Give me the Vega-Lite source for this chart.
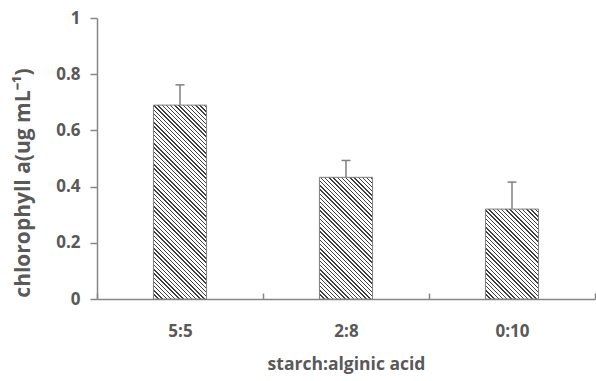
{
  "$schema": "https://vega.github.io/schema/vega-lite/v6.json",
  "width": 498,
  "height": 281,
  "autosize": {"type": "none"},
  "padding": {"left": 97, "top": 18, "right": 1, "bottom": 82},
  "background": "#ffffff",
  "config": {"view": {"stroke": null}},
  "data": {"values": [
    {"ratio": "5:5", "value": 0.69, "upper": 0.762},
    {"ratio": "2:8", "value": 0.433, "upper": 0.493},
    {"ratio": "0:10", "value": 0.32, "upper": 0.416}
  ]},
  "encoding": {
    "x": {"field": "ratio", "type": "nominal", "sort": null,
      "scale": {"domain": ["5:5", "2:8", "0:10"], "paddingInner": 0, "paddingOuter": 0},
      "axis": {"title": "starch:alginic acid", "labelAngle": 0, "tickBand": "extent", "tickSize": -6,
        "labelPadding": 38, "labelBaseline": "middle", "labelFont": "Open Sans", "labelFontWeight": "bold", "labelFontSize": 17, "labelColor": "#595959",
        "domainColor": "#868686", "domainWidth": 1.5, "tickColor": "#868686", "tickWidth": 1.5,
        "titleFont": "Open Sans", "titleFontWeight": "bold", "titleFontSize": 17.5, "titleColor": "#595959",
        "titleY": 70, "titleBaseline": "alphabetic"}
    }
  },
  "layer": [
    {
      "transform": [{"filter": "datum.ratio === '5:5'"}],
      "mark": {"type": "bar", "width": {"band": 0.32}, "stroke": "#7f7f7f", "strokeWidth": 1,
        "fill": {"gradient": "linear", "x1": 0, "y1": 1, "x2": 0.368, "y2": -0.3433, "stops": [
{"offset":0,"color":"#404040"},{"offset":0.005,"color":"#404040"},{"offset":0.005,"color":"#fff"},{"offset":0.015,"color":"#fff"},
{"offset":0.015,"color":"#404040"},{"offset":0.02,"color":"#404040"},{"offset":0.02,"color":"#fff"},{"offset":0.03,"color":"#fff"},
{"offset":0.03,"color":"#404040"},{"offset":0.035,"color":"#404040"},{"offset":0.035,"color":"#fff"},{"offset":0.045,"color":"#fff"},
{"offset":0.045,"color":"#404040"},{"offset":0.05,"color":"#404040"},{"offset":0.05,"color":"#fff"},{"offset":0.06,"color":"#fff"},
{"offset":0.06,"color":"#404040"},{"offset":0.065,"color":"#404040"},{"offset":0.065,"color":"#fff"},{"offset":0.075,"color":"#fff"},
{"offset":0.075,"color":"#404040"},{"offset":0.08,"color":"#404040"},{"offset":0.08,"color":"#fff"},{"offset":0.09,"color":"#fff"},
{"offset":0.09,"color":"#404040"},{"offset":0.095,"color":"#404040"},{"offset":0.095,"color":"#fff"},{"offset":0.105,"color":"#fff"},
{"offset":0.105,"color":"#404040"},{"offset":0.11,"color":"#404040"},{"offset":0.11,"color":"#fff"},{"offset":0.12,"color":"#fff"},
{"offset":0.12,"color":"#404040"},{"offset":0.125,"color":"#404040"},{"offset":0.125,"color":"#fff"},{"offset":0.135,"color":"#fff"},
{"offset":0.135,"color":"#404040"},{"offset":0.14,"color":"#404040"},{"offset":0.14,"color":"#fff"},{"offset":0.15,"color":"#fff"},
{"offset":0.15,"color":"#404040"},{"offset":0.155,"color":"#404040"},{"offset":0.155,"color":"#fff"},{"offset":0.165,"color":"#fff"},
{"offset":0.165,"color":"#404040"},{"offset":0.17,"color":"#404040"},{"offset":0.17,"color":"#fff"},{"offset":0.18,"color":"#fff"},
{"offset":0.18,"color":"#404040"},{"offset":0.185,"color":"#404040"},{"offset":0.185,"color":"#fff"},{"offset":0.195,"color":"#fff"},
{"offset":0.195,"color":"#404040"},{"offset":0.2,"color":"#404040"},{"offset":0.2,"color":"#fff"},{"offset":0.21,"color":"#fff"},
{"offset":0.21,"color":"#404040"},{"offset":0.215,"color":"#404040"},{"offset":0.215,"color":"#fff"},{"offset":0.225,"color":"#fff"},
{"offset":0.225,"color":"#404040"},{"offset":0.23,"color":"#404040"},{"offset":0.23,"color":"#fff"},{"offset":0.24,"color":"#fff"},
{"offset":0.24,"color":"#404040"},{"offset":0.245,"color":"#404040"},{"offset":0.245,"color":"#fff"},{"offset":0.255,"color":"#fff"},
{"offset":0.255,"color":"#404040"},{"offset":0.26,"color":"#404040"},{"offset":0.26,"color":"#fff"},{"offset":0.27,"color":"#fff"},
{"offset":0.27,"color":"#404040"},{"offset":0.275,"color":"#404040"},{"offset":0.275,"color":"#fff"},{"offset":0.285,"color":"#fff"},
{"offset":0.285,"color":"#404040"},{"offset":0.29,"color":"#404040"},{"offset":0.29,"color":"#fff"},{"offset":0.3,"color":"#fff"},
{"offset":0.3,"color":"#404040"},{"offset":0.305,"color":"#404040"},{"offset":0.305,"color":"#fff"},{"offset":0.315,"color":"#fff"},
{"offset":0.315,"color":"#404040"},{"offset":0.32,"color":"#404040"},{"offset":0.32,"color":"#fff"},{"offset":0.33,"color":"#fff"},
{"offset":0.33,"color":"#404040"},{"offset":0.335,"color":"#404040"},{"offset":0.335,"color":"#fff"},{"offset":0.345,"color":"#fff"},
{"offset":0.345,"color":"#404040"},{"offset":0.35,"color":"#404040"},{"offset":0.35,"color":"#fff"},{"offset":0.36,"color":"#fff"},
{"offset":0.36,"color":"#404040"},{"offset":0.365,"color":"#404040"},{"offset":0.365,"color":"#fff"},{"offset":0.375,"color":"#fff"},
{"offset":0.375,"color":"#404040"},{"offset":0.38,"color":"#404040"},{"offset":0.38,"color":"#fff"},{"offset":0.39,"color":"#fff"},
{"offset":0.39,"color":"#404040"},{"offset":0.395,"color":"#404040"},{"offset":0.395,"color":"#fff"},{"offset":0.405,"color":"#fff"},
{"offset":0.405,"color":"#404040"},{"offset":0.41,"color":"#404040"},{"offset":0.41,"color":"#fff"},{"offset":0.42,"color":"#fff"},
{"offset":0.42,"color":"#404040"},{"offset":0.425,"color":"#404040"},{"offset":0.425,"color":"#fff"},{"offset":0.435,"color":"#fff"},
{"offset":0.435,"color":"#404040"},{"offset":0.44,"color":"#404040"},{"offset":0.44,"color":"#fff"},{"offset":0.45,"color":"#fff"},
{"offset":0.45,"color":"#404040"},{"offset":0.455,"color":"#404040"},{"offset":0.455,"color":"#fff"},{"offset":0.465,"color":"#fff"},
{"offset":0.465,"color":"#404040"},{"offset":0.47,"color":"#404040"},{"offset":0.47,"color":"#fff"},{"offset":0.48,"color":"#fff"},
{"offset":0.48,"color":"#404040"},{"offset":0.485,"color":"#404040"},{"offset":0.485,"color":"#fff"},{"offset":0.495,"color":"#fff"},
{"offset":0.495,"color":"#404040"},{"offset":0.5,"color":"#404040"},{"offset":0.5,"color":"#fff"},{"offset":0.51,"color":"#fff"},
{"offset":0.51,"color":"#404040"},{"offset":0.515,"color":"#404040"},{"offset":0.515,"color":"#fff"},{"offset":0.525,"color":"#fff"},
{"offset":0.525,"color":"#404040"},{"offset":0.53,"color":"#404040"},{"offset":0.53,"color":"#fff"},{"offset":0.54,"color":"#fff"},
{"offset":0.54,"color":"#404040"},{"offset":0.545,"color":"#404040"},{"offset":0.545,"color":"#fff"},{"offset":0.555,"color":"#fff"},
{"offset":0.555,"color":"#404040"},{"offset":0.56,"color":"#404040"},{"offset":0.56,"color":"#fff"},{"offset":0.57,"color":"#fff"},
{"offset":0.57,"color":"#404040"},{"offset":0.575,"color":"#404040"},{"offset":0.575,"color":"#fff"},{"offset":0.585,"color":"#fff"},
{"offset":0.585,"color":"#404040"},{"offset":0.59,"color":"#404040"},{"offset":0.59,"color":"#fff"},{"offset":0.6,"color":"#fff"},
{"offset":0.6,"color":"#404040"},{"offset":0.605,"color":"#404040"},{"offset":0.605,"color":"#fff"},{"offset":0.615,"color":"#fff"},
{"offset":0.615,"color":"#404040"},{"offset":0.62,"color":"#404040"},{"offset":0.62,"color":"#fff"},{"offset":0.63,"color":"#fff"},
{"offset":0.63,"color":"#404040"},{"offset":0.635,"color":"#404040"},{"offset":0.635,"color":"#fff"},{"offset":0.645,"color":"#fff"},
{"offset":0.645,"color":"#404040"},{"offset":0.65,"color":"#404040"},{"offset":0.65,"color":"#fff"},{"offset":0.66,"color":"#fff"},
{"offset":0.66,"color":"#404040"},{"offset":0.665,"color":"#404040"},{"offset":0.665,"color":"#fff"},{"offset":0.675,"color":"#fff"},
{"offset":0.675,"color":"#404040"},{"offset":0.68,"color":"#404040"},{"offset":0.68,"color":"#fff"},{"offset":0.69,"color":"#fff"},
{"offset":0.69,"color":"#404040"},{"offset":0.695,"color":"#404040"},{"offset":0.695,"color":"#fff"},{"offset":0.705,"color":"#fff"},
{"offset":0.705,"color":"#404040"},{"offset":0.71,"color":"#404040"},{"offset":0.71,"color":"#fff"},{"offset":0.72,"color":"#fff"},
{"offset":0.72,"color":"#404040"},{"offset":0.725,"color":"#404040"},{"offset":0.725,"color":"#fff"},{"offset":0.735,"color":"#fff"},
{"offset":0.735,"color":"#404040"},{"offset":0.74,"color":"#404040"},{"offset":0.74,"color":"#fff"},{"offset":0.75,"color":"#fff"},
{"offset":0.75,"color":"#404040"},{"offset":0.755,"color":"#404040"},{"offset":0.755,"color":"#fff"},{"offset":0.765,"color":"#fff"},
{"offset":0.765,"color":"#404040"},{"offset":0.77,"color":"#404040"},{"offset":0.77,"color":"#fff"},{"offset":0.78,"color":"#fff"},
{"offset":0.78,"color":"#404040"},{"offset":0.785,"color":"#404040"},{"offset":0.785,"color":"#fff"},{"offset":0.795,"color":"#fff"},
{"offset":0.795,"color":"#404040"},{"offset":0.8,"color":"#404040"},{"offset":0.8,"color":"#fff"},{"offset":0.81,"color":"#fff"},
{"offset":0.81,"color":"#404040"},{"offset":0.815,"color":"#404040"},{"offset":0.815,"color":"#fff"},{"offset":0.825,"color":"#fff"},
{"offset":0.825,"color":"#404040"},{"offset":0.83,"color":"#404040"},{"offset":0.83,"color":"#fff"},{"offset":0.84,"color":"#fff"},
{"offset":0.84,"color":"#404040"},{"offset":0.845,"color":"#404040"},{"offset":0.845,"color":"#fff"},{"offset":0.855,"color":"#fff"},
{"offset":0.855,"color":"#404040"},{"offset":0.86,"color":"#404040"},{"offset":0.86,"color":"#fff"},{"offset":0.87,"color":"#fff"},
{"offset":0.87,"color":"#404040"},{"offset":0.875,"color":"#404040"},{"offset":0.875,"color":"#fff"},{"offset":0.885,"color":"#fff"},
{"offset":0.885,"color":"#404040"},{"offset":0.89,"color":"#404040"},{"offset":0.89,"color":"#fff"},{"offset":0.9,"color":"#fff"}
        ]}},
      "encoding": {
        "y": {"field": "value", "type": "quantitative",
          "scale": {"domain": [0, 1], "nice": false, "zero": true},
          "axis": {"title": "chlorophyll a(ug mL⁻¹)", "values": [0, 0.2, 0.4, 0.6, 0.8, 1], "format": "~g", "grid": false,
            "tickSize": 7, "labelPadding": 10, "labelFont": "Open Sans", "labelFontWeight": "bold", "labelFontSize": 17, "labelColor": "#595959",
            "domainColor": "#868686", "domainWidth": 1.5, "tickColor": "#868686", "tickWidth": 1.5,
            "titleFont": "Open Sans", "titleFontWeight": "bold", "titleFontSize": 21, "titleColor": "#595959",
            "titleX": -68, "titleY": 164.5, "titleAngle": -90, "titleAlign": "center", "titleBaseline": "alphabetic"}
        }
      }
    },
    {
      "transform": [{"filter": "datum.ratio === '2:8'"}],
      "mark": {"type": "bar", "width": {"band": 0.32}, "stroke": "#7f7f7f", "strokeWidth": 1,
        "fill": {"gradient": "linear", "x1": 0, "y1": 1, "x2": 0.8439, "y2": -0.9329, "stops": [
{"offset":0,"color":"#404040"},{"offset":0.005,"color":"#404040"},{"offset":0.005,"color":"#fff"},{"offset":0.015,"color":"#fff"},
{"offset":0.015,"color":"#404040"},{"offset":0.02,"color":"#404040"},{"offset":0.02,"color":"#fff"},{"offset":0.03,"color":"#fff"},
{"offset":0.03,"color":"#404040"},{"offset":0.035,"color":"#404040"},{"offset":0.035,"color":"#fff"},{"offset":0.045,"color":"#fff"},
{"offset":0.045,"color":"#404040"},{"offset":0.05,"color":"#404040"},{"offset":0.05,"color":"#fff"},{"offset":0.06,"color":"#fff"},
{"offset":0.06,"color":"#404040"},{"offset":0.065,"color":"#404040"},{"offset":0.065,"color":"#fff"},{"offset":0.075,"color":"#fff"},
{"offset":0.075,"color":"#404040"},{"offset":0.08,"color":"#404040"},{"offset":0.08,"color":"#fff"},{"offset":0.09,"color":"#fff"},
{"offset":0.09,"color":"#404040"},{"offset":0.095,"color":"#404040"},{"offset":0.095,"color":"#fff"},{"offset":0.105,"color":"#fff"},
{"offset":0.105,"color":"#404040"},{"offset":0.11,"color":"#404040"},{"offset":0.11,"color":"#fff"},{"offset":0.12,"color":"#fff"},
{"offset":0.12,"color":"#404040"},{"offset":0.125,"color":"#404040"},{"offset":0.125,"color":"#fff"},{"offset":0.135,"color":"#fff"},
{"offset":0.135,"color":"#404040"},{"offset":0.14,"color":"#404040"},{"offset":0.14,"color":"#fff"},{"offset":0.15,"color":"#fff"},
{"offset":0.15,"color":"#404040"},{"offset":0.155,"color":"#404040"},{"offset":0.155,"color":"#fff"},{"offset":0.165,"color":"#fff"},
{"offset":0.165,"color":"#404040"},{"offset":0.17,"color":"#404040"},{"offset":0.17,"color":"#fff"},{"offset":0.18,"color":"#fff"},
{"offset":0.18,"color":"#404040"},{"offset":0.185,"color":"#404040"},{"offset":0.185,"color":"#fff"},{"offset":0.195,"color":"#fff"},
{"offset":0.195,"color":"#404040"},{"offset":0.2,"color":"#404040"},{"offset":0.2,"color":"#fff"},{"offset":0.21,"color":"#fff"},
{"offset":0.21,"color":"#404040"},{"offset":0.215,"color":"#404040"},{"offset":0.215,"color":"#fff"},{"offset":0.225,"color":"#fff"},
{"offset":0.225,"color":"#404040"},{"offset":0.23,"color":"#404040"},{"offset":0.23,"color":"#fff"},{"offset":0.24,"color":"#fff"},
{"offset":0.24,"color":"#404040"},{"offset":0.245,"color":"#404040"},{"offset":0.245,"color":"#fff"},{"offset":0.255,"color":"#fff"},
{"offset":0.255,"color":"#404040"},{"offset":0.26,"color":"#404040"},{"offset":0.26,"color":"#fff"},{"offset":0.27,"color":"#fff"},
{"offset":0.27,"color":"#404040"},{"offset":0.275,"color":"#404040"},{"offset":0.275,"color":"#fff"},{"offset":0.285,"color":"#fff"},
{"offset":0.285,"color":"#404040"},{"offset":0.29,"color":"#404040"},{"offset":0.29,"color":"#fff"},{"offset":0.3,"color":"#fff"},
{"offset":0.3,"color":"#404040"},{"offset":0.305,"color":"#404040"},{"offset":0.305,"color":"#fff"},{"offset":0.315,"color":"#fff"},
{"offset":0.315,"color":"#404040"},{"offset":0.32,"color":"#404040"},{"offset":0.32,"color":"#fff"},{"offset":0.33,"color":"#fff"},
{"offset":0.33,"color":"#404040"},{"offset":0.335,"color":"#404040"},{"offset":0.335,"color":"#fff"},{"offset":0.345,"color":"#fff"},
{"offset":0.345,"color":"#404040"},{"offset":0.35,"color":"#404040"},{"offset":0.35,"color":"#fff"},{"offset":0.36,"color":"#fff"},
{"offset":0.36,"color":"#404040"},{"offset":0.365,"color":"#404040"},{"offset":0.365,"color":"#fff"},{"offset":0.375,"color":"#fff"},
{"offset":0.375,"color":"#404040"},{"offset":0.38,"color":"#404040"},{"offset":0.38,"color":"#fff"},{"offset":0.39,"color":"#fff"},
{"offset":0.39,"color":"#404040"},{"offset":0.395,"color":"#404040"},{"offset":0.395,"color":"#fff"},{"offset":0.405,"color":"#fff"},
{"offset":0.405,"color":"#404040"},{"offset":0.41,"color":"#404040"},{"offset":0.41,"color":"#fff"},{"offset":0.42,"color":"#fff"},
{"offset":0.42,"color":"#404040"},{"offset":0.425,"color":"#404040"},{"offset":0.425,"color":"#fff"},{"offset":0.435,"color":"#fff"},
{"offset":0.435,"color":"#404040"},{"offset":0.44,"color":"#404040"},{"offset":0.44,"color":"#fff"},{"offset":0.45,"color":"#fff"},
{"offset":0.45,"color":"#404040"},{"offset":0.455,"color":"#404040"},{"offset":0.455,"color":"#fff"},{"offset":0.465,"color":"#fff"},
{"offset":0.465,"color":"#404040"},{"offset":0.47,"color":"#404040"},{"offset":0.47,"color":"#fff"},{"offset":0.48,"color":"#fff"},
{"offset":0.48,"color":"#404040"},{"offset":0.485,"color":"#404040"},{"offset":0.485,"color":"#fff"},{"offset":0.495,"color":"#fff"},
{"offset":0.495,"color":"#404040"},{"offset":0.5,"color":"#404040"},{"offset":0.5,"color":"#fff"},{"offset":0.51,"color":"#fff"},
{"offset":0.51,"color":"#404040"},{"offset":0.515,"color":"#404040"},{"offset":0.515,"color":"#fff"},{"offset":0.525,"color":"#fff"},
{"offset":0.525,"color":"#404040"},{"offset":0.53,"color":"#404040"},{"offset":0.53,"color":"#fff"},{"offset":0.54,"color":"#fff"},
{"offset":0.54,"color":"#404040"},{"offset":0.545,"color":"#404040"},{"offset":0.545,"color":"#fff"},{"offset":0.555,"color":"#fff"},
{"offset":0.555,"color":"#404040"},{"offset":0.56,"color":"#404040"},{"offset":0.56,"color":"#fff"},{"offset":0.57,"color":"#fff"},
{"offset":0.57,"color":"#404040"},{"offset":0.575,"color":"#404040"},{"offset":0.575,"color":"#fff"},{"offset":0.585,"color":"#fff"},
{"offset":0.585,"color":"#404040"},{"offset":0.59,"color":"#404040"},{"offset":0.59,"color":"#fff"},{"offset":0.6,"color":"#fff"},
{"offset":0.6,"color":"#404040"},{"offset":0.605,"color":"#404040"},{"offset":0.605,"color":"#fff"},{"offset":0.615,"color":"#fff"},
{"offset":0.615,"color":"#404040"},{"offset":0.62,"color":"#404040"},{"offset":0.62,"color":"#fff"},{"offset":0.63,"color":"#fff"}
        ]}},
      "encoding": {"y": {"field": "value", "type": "quantitative"}}
    },
    {
      "transform": [{"filter": "datum.ratio === '0:10'"}],
      "mark": {"type": "bar", "width": {"band": 0.32}, "stroke": "#7f7f7f", "strokeWidth": 1,
        "fill": {"gradient": "linear", "x1": 0, "y1": 1, "x2": 1.3636, "y2": -1.3083, "stops": [
{"offset":0,"color":"#404040"},{"offset":0.005,"color":"#404040"},{"offset":0.005,"color":"#fff"},{"offset":0.015,"color":"#fff"},
{"offset":0.015,"color":"#404040"},{"offset":0.02,"color":"#404040"},{"offset":0.02,"color":"#fff"},{"offset":0.03,"color":"#fff"},
{"offset":0.03,"color":"#404040"},{"offset":0.035,"color":"#404040"},{"offset":0.035,"color":"#fff"},{"offset":0.045,"color":"#fff"},
{"offset":0.045,"color":"#404040"},{"offset":0.05,"color":"#404040"},{"offset":0.05,"color":"#fff"},{"offset":0.06,"color":"#fff"},
{"offset":0.06,"color":"#404040"},{"offset":0.065,"color":"#404040"},{"offset":0.065,"color":"#fff"},{"offset":0.075,"color":"#fff"},
{"offset":0.075,"color":"#404040"},{"offset":0.08,"color":"#404040"},{"offset":0.08,"color":"#fff"},{"offset":0.09,"color":"#fff"},
{"offset":0.09,"color":"#404040"},{"offset":0.095,"color":"#404040"},{"offset":0.095,"color":"#fff"},{"offset":0.105,"color":"#fff"},
{"offset":0.105,"color":"#404040"},{"offset":0.11,"color":"#404040"},{"offset":0.11,"color":"#fff"},{"offset":0.12,"color":"#fff"},
{"offset":0.12,"color":"#404040"},{"offset":0.125,"color":"#404040"},{"offset":0.125,"color":"#fff"},{"offset":0.135,"color":"#fff"},
{"offset":0.135,"color":"#404040"},{"offset":0.14,"color":"#404040"},{"offset":0.14,"color":"#fff"},{"offset":0.15,"color":"#fff"},
{"offset":0.15,"color":"#404040"},{"offset":0.155,"color":"#404040"},{"offset":0.155,"color":"#fff"},{"offset":0.165,"color":"#fff"},
{"offset":0.165,"color":"#404040"},{"offset":0.17,"color":"#404040"},{"offset":0.17,"color":"#fff"},{"offset":0.18,"color":"#fff"},
{"offset":0.18,"color":"#404040"},{"offset":0.185,"color":"#404040"},{"offset":0.185,"color":"#fff"},{"offset":0.195,"color":"#fff"},
{"offset":0.195,"color":"#404040"},{"offset":0.2,"color":"#404040"},{"offset":0.2,"color":"#fff"},{"offset":0.21,"color":"#fff"},
{"offset":0.21,"color":"#404040"},{"offset":0.215,"color":"#404040"},{"offset":0.215,"color":"#fff"},{"offset":0.225,"color":"#fff"},
{"offset":0.225,"color":"#404040"},{"offset":0.23,"color":"#404040"},{"offset":0.23,"color":"#fff"},{"offset":0.24,"color":"#fff"},
{"offset":0.24,"color":"#404040"},{"offset":0.245,"color":"#404040"},{"offset":0.245,"color":"#fff"},{"offset":0.255,"color":"#fff"},
{"offset":0.255,"color":"#404040"},{"offset":0.26,"color":"#404040"},{"offset":0.26,"color":"#fff"},{"offset":0.27,"color":"#fff"},
{"offset":0.27,"color":"#404040"},{"offset":0.275,"color":"#404040"},{"offset":0.275,"color":"#fff"},{"offset":0.285,"color":"#fff"},
{"offset":0.285,"color":"#404040"},{"offset":0.29,"color":"#404040"},{"offset":0.29,"color":"#fff"},{"offset":0.3,"color":"#fff"},
{"offset":0.3,"color":"#404040"},{"offset":0.305,"color":"#404040"},{"offset":0.305,"color":"#fff"},{"offset":0.315,"color":"#fff"},
{"offset":0.315,"color":"#404040"},{"offset":0.32,"color":"#404040"},{"offset":0.32,"color":"#fff"},{"offset":0.33,"color":"#fff"},
{"offset":0.33,"color":"#404040"},{"offset":0.335,"color":"#404040"},{"offset":0.335,"color":"#fff"},{"offset":0.345,"color":"#fff"},
{"offset":0.345,"color":"#404040"},{"offset":0.35,"color":"#404040"},{"offset":0.35,"color":"#fff"},{"offset":0.36,"color":"#fff"},
{"offset":0.36,"color":"#404040"},{"offset":0.365,"color":"#404040"},{"offset":0.365,"color":"#fff"},{"offset":0.375,"color":"#fff"},
{"offset":0.375,"color":"#404040"},{"offset":0.38,"color":"#404040"},{"offset":0.38,"color":"#fff"},{"offset":0.39,"color":"#fff"},
{"offset":0.39,"color":"#404040"},{"offset":0.395,"color":"#404040"},{"offset":0.395,"color":"#fff"},{"offset":0.405,"color":"#fff"},
{"offset":0.405,"color":"#404040"},{"offset":0.41,"color":"#404040"},{"offset":0.41,"color":"#fff"},{"offset":0.42,"color":"#fff"},
{"offset":0.42,"color":"#404040"},{"offset":0.425,"color":"#404040"},{"offset":0.425,"color":"#fff"},{"offset":0.435,"color":"#fff"},
{"offset":0.435,"color":"#404040"},{"offset":0.44,"color":"#404040"},{"offset":0.44,"color":"#fff"},{"offset":0.45,"color":"#fff"},
{"offset":0.45,"color":"#404040"},{"offset":0.455,"color":"#404040"},{"offset":0.455,"color":"#fff"},{"offset":0.465,"color":"#fff"},
{"offset":0.465,"color":"#404040"},{"offset":0.47,"color":"#404040"},{"offset":0.47,"color":"#fff"},{"offset":0.48,"color":"#fff"},
{"offset":0.48,"color":"#404040"},{"offset":0.485,"color":"#404040"},{"offset":0.485,"color":"#fff"},{"offset":0.495,"color":"#fff"},
{"offset":0.495,"color":"#404040"},{"offset":0.5,"color":"#404040"},{"offset":0.5,"color":"#fff"},{"offset":0.51,"color":"#fff"},
{"offset":0.51,"color":"#404040"},{"offset":0.515,"color":"#404040"},{"offset":0.515,"color":"#fff"},{"offset":0.525,"color":"#fff"}
        ]}},
      "encoding": {"y": {"field": "value", "type": "quantitative"}}
    },
    {
      "mark": {"type": "rule", "stroke": "#7f7f7f", "strokeWidth": 1.5},
      "encoding": {
        "y": {"field": "value", "type": "quantitative"},
        "y2": {"field": "upper"}
      }
    },
    {
      "mark": {"type": "tick", "color": "#7f7f7f", "size": 9, "thickness": 1.5, "opacity": 1},
      "encoding": {
        "y": {"field": "upper", "type": "quantitative"}
      }
    }
  ]
}
